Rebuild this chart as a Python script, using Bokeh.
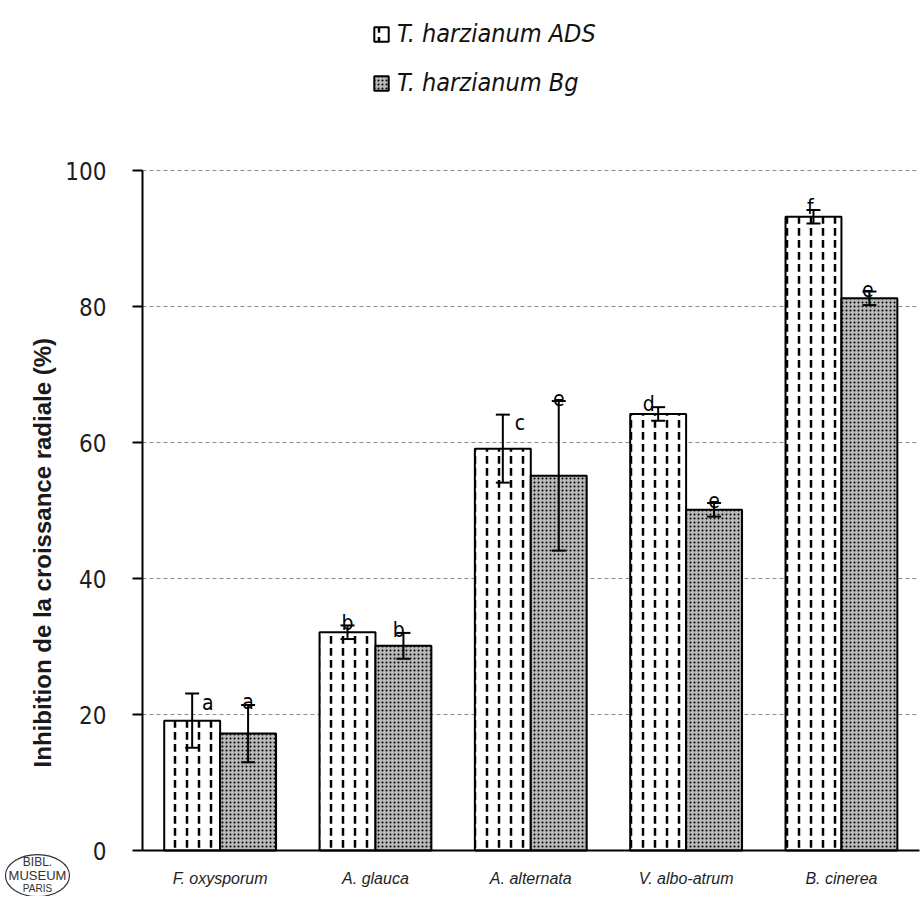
import math
from bokeh.plotting import figure
from bokeh.models import (ColumnDataSource, Range1d, Legend, LegendItem,
                          Label, FixedTicker)
from bokeh.core.properties import value
from bokeh.embed import file_html
from bokeh.resources import INLINE

# ---------------- data ----------------
species = ["F. oxysporum", "A. glauca", "A. alternata", "V. albo-atrum", "B. cinerea"]
ads_mean = [19.1, 32.1, 59.1, 64.2, 93.2]
ads_err = [4.0, 1.0, 5.0, 1.0, 1.0]
ads_letters = ["a", "b", "c", "d", "f"]
bg_mean = [17.2, 30.1, 55.1, 50.1, 81.2]
bg_err = [4.2, 1.9, 11.0, 1.0, 1.0]
bg_letters = ["a", "b", "e", "e", "e"]
y_ticks = [0, 20, 40, 60, 80, 100]
series_names = ["T. harzianum ADS", "T. harzianum Bg"]
y_title = "Inhibition de la croissance radiale (%)"
stamp_lines = ["BIBL.", "MUSEUM", "PARIS"]

# ---------------- layout constants ----------------
OFF = 0.18      # dodge of each bar from group centre (group units)
BW = 0.36       # bar width
CAP = 0.045     # half-width of error bar caps
NARROW = "DejaVu Sans Condensed"
N = len(species)
YMAX = y_ticks[-1]

centers = [i + 0.5 for i in range(N)]
src = ColumnDataSource(dict(
    xa=[c - OFF for c in centers], xb=[c + OFF for c in centers],
    ads=ads_mean, ads_hi=[m + e for m, e in zip(ads_mean, ads_err)],
    ads_lo=[m - e for m, e in zip(ads_mean, ads_err)],
    bg=bg_mean, bg_hi=[m + e for m, e in zip(bg_mean, bg_err)],
    bg_lo=[m - e for m, e in zip(bg_mean, bg_err)],
))

# the frame covers the whole canvas; the axes sit at fixed data locations
p = figure(x_range=Range1d(-0.914, 5.009), y_range=Range1d(-6.76, 125),
           width=920, height=896, output_backend="svg", toolbar_location=None,
           min_border=0)
p.outline_line_color = None
p.background_fill_color = "white"
p.border_fill_color = "white"
p.grid.visible = False

# dashed gridlines (from the y ticks, across the category span)
gy = y_ticks[1:]
p.segment(x0=[0] * len(gy), x1=[N] * len(gy), y0=gy, y1=gy,
          line_color="#8c8c8c", line_width=1, line_dash="4 3")

# bars
r_ads = p.vbar(x="xa", top="ads", width=BW, source=src,
               fill_color="white", line_color="black", line_width=2,
               hatch_pattern="vertical_dash", hatch_color="black",
               hatch_scale=12, hatch_weight=2.5)
r_bg = p.vbar(x="xb", top="bg", width=BW, source=src,
              fill_color="#b8b8b8", line_color="black", line_width=2,
              hatch_pattern="dot", hatch_color="black",
              hatch_scale=4, hatch_weight=2)

# error bars
for key, xk in (("ads", "xa"), ("bg", "xb")):
    xs = src.data[xk]
    p.segment(x0=xk, x1=xk, y0=key + "_lo", y1=key + "_hi", source=src,
              line_color="black", line_width=2)
    for end in ("_lo", "_hi"):
        p.segment(x0=[x - CAP for x in xs], x1=[x + CAP for x in xs],
                  y0=src.data[key + end], y1=src.data[key + end],
                  line_color="black", line_width=2)

# significance letters
ads_dx = [0.10, 0.0, 0.11, -0.06, -0.02]
ads_dy = [-1.8, 0.0, -1.6, 0.0, 0.0]
bg_dx = [0.0, -0.03, 0.0, 0.0, -0.01]
lx, ly, lt = [], [], []
for i in range(N):
    lx.append(centers[i] - OFF + ads_dx[i]); ly.append(ads_mean[i] + ads_err[i] + ads_dy[i] + 0.4); lt.append(ads_letters[i])
    lx.append(centers[i] + OFF + bg_dx[i]); ly.append(bg_mean[i] + bg_err[i] + 0.4); lt.append(bg_letters[i])
p.text(x=lx, y=ly, text=lt, text_align="center", text_baseline="alphabetic",
       text_font=value(NARROW), text_font_size="21px", text_color="black")

# axes
p.yaxis.fixed_location = 0
p.yaxis.bounds = (0, YMAX)
p.yaxis.ticker = FixedTicker(ticks=y_ticks)
p.yaxis.axis_line_width = 2
p.yaxis.axis_line_color = "black"
p.yaxis.major_tick_out = 10
p.yaxis.major_tick_in = 0
p.yaxis.major_tick_line_width = 2
p.yaxis.minor_tick_line_color = None
p.yaxis.major_label_standoff = 26
p.yaxis.major_label_text_font = NARROW
p.yaxis.major_label_text_font_size = "24px"
p.yaxis.major_label_text_color = "#1e1e1e"

p.xaxis.fixed_location = 0
p.xaxis.bounds = (0, N)
p.xaxis.ticker = FixedTicker(ticks=centers)
p.xaxis.major_label_overrides = {c: s for c, s in zip(centers, species)}
p.xaxis.axis_line_width = 2
p.xaxis.axis_line_color = "black"
p.xaxis.major_tick_line_color = None
p.xaxis.minor_tick_line_color = None
p.xaxis.major_label_standoff = 13
p.xaxis.major_label_text_font = "Liberation Sans"
p.xaxis.major_label_text_font_style = "italic"
p.xaxis.major_label_text_font_size = "16px"
p.xaxis.major_label_text_color = "#1e1e1e"

# y title (placed lower than frame centre, as in the reference)
p.add_layout(Label(x=-0.644, y=43.8, text=y_title, angle=math.pi / 2,
                   text_align="center", text_baseline="middle",
                   text_font="Liberation Sans", text_font_style="bold",
                   text_font_size="24px", text_color="#1a1a1a"))

# legend at the top (location = bottom-left corner, px from frame bottom-left)
legend = Legend(items=[LegendItem(label=series_names[0], renderers=[r_ads]),
                       LegendItem(label=series_names[1], renderers=[r_bg])],
                location=(372, 799), orientation="vertical", spacing=20,
                padding=0, margin=0, glyph_width=18, glyph_height=18,
                label_standoff=7, label_text_font=NARROW,
                label_text_font_style="italic", label_text_font_size="25px",
                label_text_color="#111111",
                border_line_color=None, background_fill_alpha=0)
p.add_layout(legend)

# library stamp
p.ellipse(x=[-0.676], y=[-3.68], width=64, height=42, width_units="screen",
          height_units="screen", fill_color=None, line_color="#333333", line_width=1.2)
for txt, yy, fs in zip(stamp_lines, (-1.76, -3.68, -5.59), ("12px", "13px", "10px")):
    p.add_layout(Label(x=-0.676, y=yy, text=txt, text_align="center", text_baseline="middle",
                       text_font="Liberation Sans", text_font_size=fs, text_color="#333333"))

open("out.html", "w").write(file_html(p, INLINE))
